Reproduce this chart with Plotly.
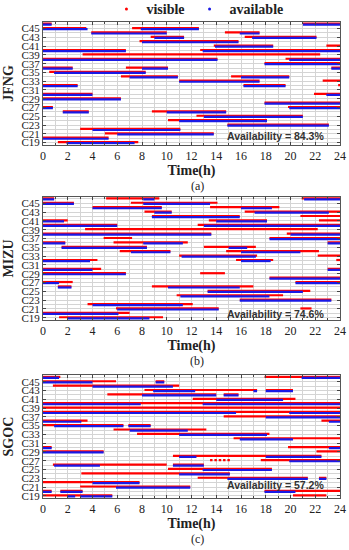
import plotly.graph_objects as go

# ---------------- data: (satellite, start_hour, end_hour) ----------------
SATS = list(range(19, 47))
Y_TICK_SATS = list(range(19, 46, 2))
Y_TICK_TEXT = ["C%d" % s for s in Y_TICK_SATS]
STATIONS = ["JFNG", "MIZU", "SGOC"]
PANEL_TAGS = ["(a)", "(b)", "(c)"]
AVAILABILITY = [84.3, 74.6, 57.2]

JFNG_VIS = [
    (46, 0, 0.7), (46, 21, 24),
    (45, 0, 3.5), (45, 7.2, 12.6),
    (44, 3.9, 10.0), (44, 14.7, 17.5),
    (43, 8.7, 11.4), (43, 16.3, 22.1),
    (42, 7.8, 15.8),
    (41, 13.8, 18.6), (41, 22.9, 24),
    (40, 0, 6.7), (40, 12.7, 24),
    (39, 3.2, 22.4),
    (38, 0, 14.1), (38, 19.6, 24),
    (37, 17.9, 24),
    (36, 0, 2.4), (36, 6.7, 10.1), (36, 23.3, 24),
    (35, 0.5, 8.3),
    (34, 6.3, 10.9), (34, 15.2, 19.9),
    (33, 11.0, 17.5), (33, 22.6, 24),
    (32, 0, 2.8), (32, 16.2, 19.6), (32, 23.85, 24),
    (30, 0, 4.0), (30, 21.9, 24),
    (29, 0, 6.3),
    (28, 17.9, 24),
    (27, 0, 0.8), (27, 19.8, 24),
    (26, 1.6, 3.7), (26, 8.8, 14.8),
    (25, 12.4, 21.0),
    (24, 10.1, 18.1),
    (23, 14.9, 23.1),
    (22, 3.0, 11.1),
    (21, 5.0, 13.8),
    (20, 0, 5.3),
    (19, 1.2, 7.7),
]
JFNG_AVA = [
    (46, 0, 0.7), (46, 21, 24),
    (45, 0, 3.6), (45, 7.9, 12.6),
    (44, 3.9, 10.0), (44, 15.9, 17.5),
    (43, 9.0, 11.4), (43, 16.9, 22.1),
    (42, 8.0, 15.8),
    (41, 13.9, 18.6),
    (40, 0, 6.7), (40, 12.9, 24),
    (38, 0, 14.1), (38, 19.9, 24),
    (37, 17.9, 24),
    (36, 0, 2.4), (36, 8.0, 10.1), (36, 23.3, 24),
    (35, 0.9, 8.3),
    (34, 7.0, 10.9), (34, 16.0, 19.9),
    (33, 11.0, 17.5),
    (32, 0, 2.8), (32, 16.2, 19.6),
    (30, 0, 4.0), (30, 22.9, 24),
    (29, 0, 6.3),
    (28, 17.9, 24),
    (27, 0, 0.8), (27, 19.9, 24),
    (26, 1.6, 3.7), (26, 10.0, 14.8),
    (25, 13.0, 21.0),
    (24, 11.0, 18.1),
    (23, 14.9, 23.1),
    (22, 4.0, 11.1),
    (21, 6.0, 13.8),
    (20, 0, 5.3),
    (19, 1.9, 7.4),
]

MIZU_VIS = [
    (46, 0, 0.9), (46, 5.1, 9.4), (46, 20.9, 24),
    (45, 0, 2.5), (45, 7.1, 14.1),
    (44, 4.0, 9.6), (44, 13.5, 19.1),
    (43, 8.2, 10.4), (43, 16.3, 24),
    (42, 8.8, 15.9), (42, 20.8, 24),
    (41, 0, 2.0), (41, 13.4, 18.1), (41, 22.3, 24),
    (40, 0, 6.0), (40, 12.5, 24),
    (39, 3.4, 22.2),
    (38, 0, 13.6), (38, 19.7, 24),
    (37, 4.9, 7.2), (37, 18.3, 24),
    (36, 0, 1.8), (36, 5.7, 11.7), (36, 23.0, 24),
    (35, 1.5, 8.4), (35, 13.0, 17.2),
    (34, 6.2, 10.3), (34, 14.8, 22.3),
    (33, 11.0, 17.3), (33, 22.2, 24),
    (32, 0, 4.4), (32, 15.6, 18.6), (32, 23.7, 24),
    (30, 0, 4.7), (30, 23.0, 24),
    (29, 0, 6.7), (29, 12.7, 14.7),
    (28, 18.3, 24),
    (27, 0, 2.4), (27, 20.4, 24),
    (26, 1.2, 2.3), (26, 8.8, 17.0),
    (25, 13.3, 21.6),
    (24, 10.8, 19.4),
    (23, 15.9, 23.3),
    (22, 3.6, 12.1),
    (21, 5.9, 14.2), (21, 20.8, 21.7),
    (20, 0, 7.0),
    (19, 1.3, 9.7),
]
MIZU_AVA = [
    (46, 0, 0.9), (46, 8.1, 9.0), (46, 21.1, 24),
    (45, 0, 2.5), (45, 8.1, 13.5),
    (44, 4.0, 9.6), (44, 16.0, 18.5),
    (43, 9.0, 10.4), (43, 17.1, 23.1),
    (42, 8.8, 15.9),
    (41, 0, 1.7), (41, 14.0, 18.1),
    (40, 0, 6.0), (40, 13.0, 24),
    (38, 0, 13.6), (38, 20.0, 24),
    (37, 18.3, 24),
    (36, 0, 1.8), (36, 8.1, 11.3), (36, 23.0, 24),
    (35, 1.5, 8.4), (35, 15.0, 16.5),
    (34, 7.1, 10.3), (34, 16.0, 20.8),
    (33, 11.2, 17.2),
    (32, 0, 3.8), (32, 16.0, 18.4),
    (30, 0, 4.0), (30, 23.0, 24),
    (29, 0, 6.7),
    (28, 18.3, 24),
    (27, 0, 1.3), (27, 20.4, 24),
    (26, 1.2, 2.3), (26, 10.1, 15.9),
    (25, 13.3, 21.0),
    (24, 11.1, 18.3),
    (23, 15.9, 23.3),
    (22, 4.0, 11.3),
    (21, 6.0, 14.2),
    (20, 0, 6.1),
    (19, 2.0, 8.6),
]

SGOC_VIS = [
    (46, 0, 1.4), (46, 17.9, 24),
    (45, 0, 5.9), (45, 9.1, 9.8),
    (44, 0.8, 11.0),
    (43, 8.2, 17.3), (43, 18.0, 20.2),
    (42, 5.2, 14.0), (42, 14.6, 15.8),
    (41, 12.1, 20.4),
    (40, 0, 24),
    (39, 0, 24),
    (38, 0, 24),
    (37, 14.6, 24),
    (36, 0, 3.6), (36, 22.5, 24),
    (35, 0, 6.5), (35, 6.9, 8.7),
    (34, 5.7, 13.2),
    (33, 7.6, 18.3),
    (32, 15.4, 24),
    (30, 0, 0.7), (30, 19.8, 24),
    (29, 0, 4.9), (29, 22.1, 24),
    (28, 10.5, 22.5),
    (27, 13.5, 13.7), (27, 13.85, 14.05), (27, 14.2, 14.4), (27, 14.55, 14.75),
    (27, 14.9, 15.1), (27, 17.6, 24),
    (26, 0.8, 10.0), (26, 10.5, 13.0),
    (25, 10.1, 18.5),
    (24, 3.1, 15.1),
    (23, 12.5, 21.4), (23, 22.3, 22.9),
    (22, 0, 7.8),
    (21, 3.0, 11.9),
    (20, 0, 0.7), (20, 1.4, 3.2), (20, 17.9, 24),
    (19, 0, 5.6), (19, 20.2, 22.9),
]
SGOC_AVA = [
    (46, 0, 1.3), (46, 20.9, 24),
    (45, 0, 4.0), (45, 9.1, 9.8),
    (44, 4.0, 10.5),
    (43, 8.9, 12.3), (43, 17.0, 17.3), (43, 18.0, 20.2),
    (42, 8.0, 14.0), (42, 14.6, 15.8),
    (41, 14.0, 19.4),
    (40, 0, 7.9), (40, 12.9, 24),
    (38, 0, 15.6), (38, 19.9, 24),
    (37, 18.0, 24),
    (36, 0, 3.1), (36, 23.1, 24),
    (35, 0.9, 6.5), (35, 6.9, 8.7),
    (34, 7.0, 11.7),
    (33, 11.0, 18.1),
    (32, 15.9, 20.2),
    (30, 0, 0.7), (30, 23.1, 24),
    (29, 0, 4.9),
    (28, 11.0, 12.4), (28, 18.0, 22.5),
    (27, 19.9, 24),
    (26, 0.9, 4.6), (26, 10.5, 13.0),
    (25, 12.9, 18.5),
    (24, 11.0, 15.1),
    (23, 14.9, 21.4), (23, 22.3, 22.9),
    (22, 4.0, 7.8),
    (21, 5.9, 11.9),
    (20, 0, 0.7), (20, 1.4, 3.2), (20, 17.9, 20.4),
    (19, 2.0, 2.6), (19, 3.0, 5.6),
]

VIS = [JFNG_VIS, MIZU_VIS, SGOC_VIS]
AVA = [JFNG_AVA, MIZU_AVA, SGOC_AVA]

# ---------------- styling ----------------
RED = "rgb(255,0,0)"
BLUE = "rgb(25,25,230)"
SERIF = "Liberation Serif"
SANS = "Liberation Sans"
DOMAINS = [[0.742, 1.0], [0.374, 0.633], [0.0, 0.258]]
AVA_TEXT_Y = [20.6, 19.8, 21.4]
OFF = 0.12


def segs(items, dy):
    xs, ys = [], []
    for s, a, b in items:
        xs += [a, b, None]
        ys += [s + dy, s + dy, None]
    return xs, ys


fig = go.Figure()
for i in range(3):
    xa = "x" if i == 0 else "x%d" % (i + 1)
    ya = "y" if i == 0 else "y%d" % (i + 1)
    x, y = segs(VIS[i], OFF)
    fig.add_trace(go.Scatter(x=x, y=y, mode="lines", line=dict(color=RED, width=2.2),
                             xaxis=xa, yaxis=ya, showlegend=False, hoverinfo="skip"))
    x, y = segs(AVA[i], -OFF)
    fig.add_trace(go.Scatter(x=x, y=y, mode="lines", line=dict(color=BLUE, width=2.2),
                             xaxis=xa, yaxis=ya, showlegend=False, hoverinfo="skip"))

# legend entries
fig.add_trace(go.Scatter(x=[None], y=[None], mode="markers", name="visible",
                         marker=dict(color=RED, size=3)))
fig.add_trace(go.Scatter(x=[None], y=[None], mode="markers", name="available",
                         marker=dict(color=BLUE, size=3)))

layout = dict(
    width=349, height=550,
    margin=dict(l=43, r=9, t=22, b=52, autoexpand=False),
    paper_bgcolor="white", plot_bgcolor="white",
    showlegend=True,
    legend=dict(orientation="h", x=0.52, xanchor="center", y=0.993, yanchor="bottom",
                font=dict(family=SERIF, size=14, color="#222", weight="bold"),
                itemwidth=30, itemsizing="trace", tracegroupgap=0,
                bgcolor="rgba(0,0,0,0)"),
    annotations=[],
)

for i in range(3):
    xk = "xaxis" if i == 0 else "xaxis%d" % (i + 1)
    yk = "yaxis" if i == 0 else "yaxis%d" % (i + 1)
    ya = "y" if i == 0 else "y%d" % (i + 1)
    xa = "x" if i == 0 else "x%d" % (i + 1)
    layout[xk] = dict(
        domain=[0, 1], anchor=ya, range=[0, 24], tick0=0, dtick=2,
        ticks="inside", ticklen=3, tickcolor="#444", mirror="ticks",
        showline=True, linecolor="#555", linewidth=1,
        showgrid=True, gridcolor="#d4d4d4", gridwidth=0.8,
        minor=dict(tickmode="linear", tick0=0, dtick=1, ticks="inside", ticklen=2,
                   tickcolor="#444", showgrid=True, gridcolor="#d4d4d4", gridwidth=0.8),
        zeroline=False, automargin=False,
        tickfont=dict(family=SERIF, size=12, color="#222"),
        title=dict(text="<b>Time(h)</b>", font=dict(family=SERIF, size=14, color="#222"),
                   standoff=1),
    )
    layout[yk] = dict(
        domain=DOMAINS[i], anchor=xa, range=[18.5, 46.5],
        tickmode="array", tickvals=Y_TICK_SATS, ticktext=Y_TICK_TEXT,
        ticks="inside", ticklen=3, tickcolor="#444", mirror="ticks",
        showline=True, linecolor="#555", linewidth=1,
        showgrid=True, gridcolor="#d4d4d4", gridwidth=0.8,
        minor=dict(tickmode="linear", tick0=0, dtick=1, showgrid=True,
                   gridcolor="#d4d4d4", gridwidth=0.8),
        zeroline=False, automargin=False,
        tickfont=dict(family=SERIF, size=11, color="#222"),
        title=dict(text="<b>%s</b>" % STATIONS[i], font=dict(family=SERIF, size=14, color="#222"),
                   standoff=4),
    )
    layout["annotations"].append(dict(
        x=22.9, y=AVA_TEXT_Y[i], xref=xa, yref=ya, xanchor="right", yanchor="middle",
        text="<b>Availability = %.1f%%</b>" % AVAILABILITY[i], showarrow=False,
        font=dict(family=SANS, size=10.5, color="#333")))
    layout["annotations"].append(dict(
        x=0.52, y=DOMAINS[i][0], xref="paper", yref="paper", xanchor="center", yanchor="top",
        yshift=-32, text=PANEL_TAGS[i], showarrow=False,
        font=dict(family=SERIF, size=12, color="#222")))

fig.update_layout(**layout)
fig.write_html("out.html", config={"displayModeBar": False},
               post_script="document.body.style.margin='0';")
